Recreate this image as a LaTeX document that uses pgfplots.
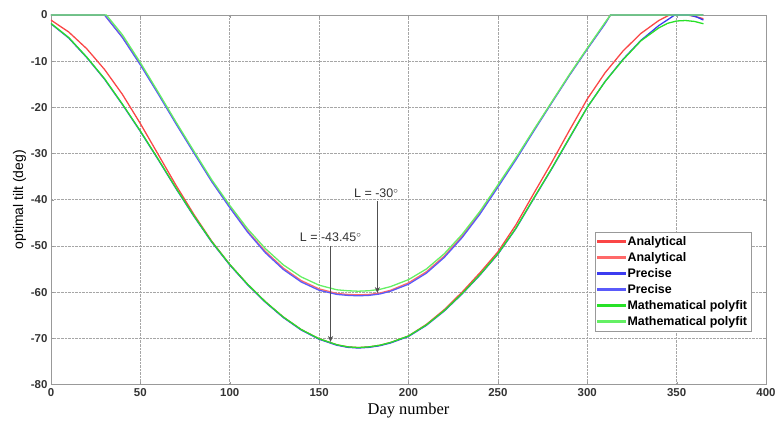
\documentclass[border=0pt]{standalone}
\usepackage{fontspec}
\setmainfont{Liberation Sans}
\newfontfamily\seriffont{Liberation Serif}
\usepackage{pgfplots}
\pgfplotsset{compat=1.18}
\usetikzlibrary{arrows.meta}
\definecolor{cred}{RGB}{250,70,70}
\definecolor{cred2}{RGB}{255,105,105}
\definecolor{cblue}{RGB}{60,60,240}
\definecolor{cblue2}{RGB}{90,90,250}
\definecolor{cgreen}{RGB}{40,225,40}
\definecolor{cgreen2}{RGB}{100,240,100}
\definecolor{annot}{RGB}{80,80,80}
\pgfplotsset{lgd/.style={legend image code/.code={\fill[#1] (0cm,-0.2pt) rectangle (0.95cm,1.3pt);}}}
\begin{document}
\begin{tikzpicture}
\begin{axis}[
    scale only axis,
    width=716bp, height=370bp,
    xmin=0, xmax=400, ymin=-80, ymax=0,
    xtick={0,50,...,400},
    xticklabels={0,50,100,150,200,250,300,350,400},
    ytick={-80,-70,...,0},
    yticklabels={-80,-70,-60,-50,-40,-30,-20,-10,0},
    tick label style={font=\fontsize{11.5}{13}\selectfont\bfseries, text=black!80},
    xmajorgrids, ymajorgrids,
    grid style={densely dotted, gray!70, line width=0.6pt},
    axis line style={gray!80, line width=0.8pt},
    tick style={gray!80},
    major tick length=3bp,
    xlabel={\seriffont\fontsize{16.5}{18}\selectfont Day number},
    ylabel={\fontsize{14}{16}\selectfont optimal tilt (deg)},
    ylabel style={yshift=-2bp},
    legend style={at={(rel axis cs:0.9804,0.4135)}, anchor=north east,
        draw=gray!80, fill=white, line width=0.8pt,
        font=\fontsize{12.5}{13}\selectfont\bfseries,
        row sep=1.5pt, inner sep=2.5pt},
    legend cell align=left,
    every axis plot/.append style={line width=1.3pt},
]
% analytical, L = -43.45
\addplot[draw=cred, lgd=cred] coordinates {
(0,-1.1)(10,-3.7)(20,-7.3)(30,-11.8)(40,-17.2)(50,-23.5)(60,-30.2)(70,-36.9)
(80,-43.2)(90,-49)(100,-54)(110,-58.3)(120,-62.1)(130,-65.4)(140,-68.1)
(150,-70.1)(160,-71.4)(166,-71.85)(172,-72)(178,-71.85)(184,-71.5)(190,-70.9)
(200,-69.5)(210,-67)(220,-63.8)(230,-60)(240,-55.8)(250,-51.3)(260,-45.5)
(270,-38.7)(280,-32)(290,-25)(300,-18.2)(310,-12.5)(320,-7.8)(330,-4)
(340,-1.2)(346,0)(356,0)(360,-0.3)(365,-0.8)};
\addlegendentry{Analytical}
% analytical, L = -30
\addplot[draw=cred2, lgd=cred2] coordinates {
(0,0)(30,0)(40,-4.8)(50,-10.6)(60,-16.9)(70,-23.4)(80,-29.7)(90,-36)
(100,-41.5)(110,-46.8)(120,-51.2)(130,-54.8)(140,-57.5)(150,-59.3)(160,-60.3)
(166,-60.5)(172,-60.6)(178,-60.5)(184,-60.2)(190,-59.6)(200,-58)(210,-55.6)
(220,-52.2)(230,-47.9)(240,-42.8)(250,-37)(260,-31.2)(270,-25)(280,-19)
(290,-13)(300,-7.3)(310,-1.8)(313,0)(365,0)};
\addlegendentry{Analytical}
% precise, L = -43.45
\addplot[draw=cblue, lgd=cblue] coordinates {
(0,-1.9)(10,-5)(20,-9.2)(30,-13.9)(40,-19.4)(50,-25.2)(60,-31.3)(70,-37.6)
(80,-43.6)(90,-49.2)(100,-54.1)(110,-58.4)(120,-62.2)(130,-65.5)(140,-68.2)
(150,-70.2)(160,-71.5)(166,-71.95)(172,-72.1)(178,-71.95)(184,-71.6)(190,-71)
(200,-69.6)(210,-67.2)(220,-64.1)(230,-60.4)(240,-56.3)(250,-51.8)(260,-46.3)
(270,-39.8)(280,-33.4)(290,-26.7)(300,-20)(310,-14.4)(320,-9.6)(330,-5.5)
(340,-2.3)(349,0)(357,0)(361,-0.4)(365,-1.1)};
\addlegendentry{Precise}
% precise, L = -30
\addplot[draw=cblue2, lgd=cblue2] coordinates {
(0,0)(30,0)(40,-4.9)(50,-10.8)(60,-17.1)(70,-23.6)(80,-29.9)(90,-36.1)
(100,-41.7)(110,-47)(120,-51.5)(130,-55.1)(140,-57.8)(150,-59.6)(160,-60.5)
(166,-60.7)(172,-60.8)(178,-60.7)(184,-60.4)(190,-59.8)(200,-58.3)(210,-55.9)
(220,-52.5)(230,-48.2)(240,-43.1)(250,-37.3)(260,-31.4)(270,-25.2)(280,-19.1)
(290,-13.1)(300,-7.4)(310,-1.9)(313,0)(365,0)};
\addlegendentry{Precise}
% polyfit, L = -43.45
\addplot[draw=cgreen, lgd=cgreen] coordinates {
(0,-1.8)(10,-4.9)(20,-9.1)(30,-13.8)(40,-19.3)(50,-25.1)(60,-31.2)(70,-37.5)
(80,-43.5)(90,-49.1)(100,-54)(110,-58.3)(120,-62.1)(130,-65.4)(140,-68.1)
(150,-70.1)(160,-71.4)(166,-71.85)(172,-72)(178,-71.85)(184,-71.5)(190,-70.9)
(200,-69.5)(210,-67.1)(220,-64)(230,-60.3)(240,-56.2)(250,-51.7)(260,-46.2)
(270,-39.7)(280,-33.3)(290,-26.6)(300,-20)(310,-14.4)(320,-9.7)(330,-5.6)
(340,-2.8)(345,-1.8)(350,-1.3)(355,-1.2)(360,-1.4)(365,-1.9)};
\addlegendentry{Mathematical polyfit}
% polyfit, L = -30
\addplot[draw=cgreen2, lgd=cgreen2] coordinates {
(0,0)(31,0)(40,-4.3)(50,-10.3)(60,-16.7)(70,-23.2)(80,-29.5)(90,-35.7)
(100,-41.2)(110,-46.3)(120,-50.6)(130,-54.1)(140,-56.7)(150,-58.5)(160,-59.5)
(166,-59.7)(172,-59.8)(178,-59.7)(184,-59.4)(190,-58.8)(200,-57.3)(210,-55)
(220,-51.7)(230,-47.5)(240,-42.5)(250,-36.8)(260,-31)(270,-24.9)(280,-18.9)
(290,-12.9)(300,-7.2)(310,-1.6)(313,0)(365,0)};
\addlegendentry{Mathematical polyfit}
% annotations
\node[font=\fontsize{12.5}{14}\selectfont, text=black!80, anchor=base] at (axis cs:182.0,-39.6) {L = -30$^{\circ}$};
\draw[annot, line width=0.6pt, -{Stealth[length=6bp,width=5bp]}] (axis cs:182.6,-40.3) -- (axis cs:182.6,-60.2);
\node[font=\fontsize{12.5}{14}\selectfont, text=black!80, anchor=base] at (axis cs:156.5,-49.1) {L = -43.45$^{\circ}$};
\draw[annot, line width=0.6pt, -{Stealth[length=6bp,width=5bp]}] (axis cs:156.4,-50.0) -- (axis cs:156.4,-70.8);
\end{axis}
\pgfresetboundingbox
\path ([shift={(-51bp,-38bp)}]current axis.south west) rectangle ([shift={(9bp,15bp)}]current axis.north east);
\end{tikzpicture}
\end{document}
